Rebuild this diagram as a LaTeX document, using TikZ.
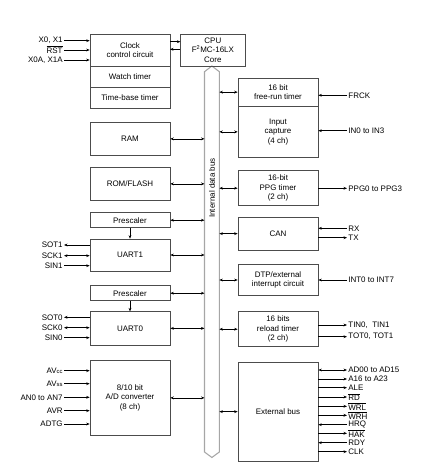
\documentclass[tikz,border=0pt]{standalone}
\usepackage{fontspec}
\setmainfont{Liberation Sans}
\usetikzlibrary{arrows.meta}

\tikzset{
  blk/.style={draw=black!70, line width=0.5pt, minimum width=24mm, inner sep=0pt, align=center},
  lbl/.style={inner sep=1pt},
  sig/.style={line width=0.5pt, -{Stealth[length=3pt,width=2.4pt]}},
  bsig/.style={line width=0.5pt, {Stealth[length=3pt,width=2.4pt]}-{Stealth[length=3pt,width=2.4pt]}},
}
\newcommand{\sm}[1]{{\fontsize{5}{6}\selectfont #1}}

\begin{document}
\begin{tikzpicture}[x=0.3mm, y=-0.3mm, font=\fontsize{6.8}{8.1}\selectfont]
  \useasboundingbox (0,0) rectangle (434,471);

  % Internal data bus
  \draw[gray!70, line width=0.9pt]
    (204.5,71.7) -- (211.9,66) -- (219.3,71.7) -- (219.3,452) -- (211.9,457.5) -- (204.5,452) -- cycle;
  \node[rotate=90] (busname) at (211.9,188) {Internal data bus};
  \coordinate (busL) at (204.5,0);
  \coordinate (busR) at (219.3,0);

  % Clock section and CPU
  \node[blk, minimum height=9.81mm] (clk) at (130,50.35) {Clock\\control circuit};
  \node[blk, minimum height=6.09mm] (watch) at (130,76.85) {Watch timer};
  \node[blk, minimum height=6.3mm] (tbase) at (130,97.5) {Time-base timer};
  \node[blk, minimum width=19.29mm, minimum height=9.6mm] (cpu) at (212.85,50) {CPU\\F\textsuperscript{2}MC-16LX\\Core};
  \draw[sig] (170,41.7) -- (cpu.west |- 0,41.7);
  \draw[sig] (cpu.west |- 0,49.3) -- (170,49.3);

  \node[lbl, anchor=east] (x0) at (64,40.7) {X0, X1};
  \node[lbl, anchor=east] (rst) at (64,50) {$\overline{\mbox{RST}}$};
  \node[lbl, anchor=east] (x0a) at (64,60) {X0A, X1A};
  \draw[sig] (x0.east) -- (clk.west |- x0);
  \draw[sig] (rst.east) -- (clk.west |- rst);
  \draw[sig] (x0a.east) -- (clk.west |- x0a);

  % Left column
  \node[blk, minimum height=9.69mm] (ram) at (130,138.85) {RAM};
  \node[blk, minimum height=9.69mm] (rom) at (130,183.85) {ROM/FLASH};
  \node[blk, minimum height=4.5mm] (pre1) at (130,220.2) {Prescaler};
  \node[blk, minimum height=9.6mm] (uart1) at (130,255) {UART1};
  \node[blk, minimum height=4.5mm] (pre2) at (130,293.2) {Prescaler};
  \node[blk, minimum height=10mm] (uart0) at (130,328.35) {UART0};
  \node[blk, minimum height=22.29mm] (adc) at (130,397.85) {8/10 bit\\A/D converter\\(8 ch)};

  \draw[bsig] (ram.east) -- (ram.east -| busL);
  \draw[bsig] (rom.east) -- (rom.east -| busL);
  \draw[bsig] (pre1.east) -- (pre1.east -| busL);
  \draw[bsig] (uart1.east) -- (uart1.east -| busL);
  \draw[bsig] (pre2.east) -- (pre2.east -| busL);
  \draw[bsig] (uart0.east) -- (uart0.east -| busL);
  \draw[bsig] (adc.east) -- (adc.east -| busL);
  \draw[sig] (pre1.south) -- (uart1.north);
  \draw[sig] (pre2.south) -- (uart0.north);

  \node[lbl, anchor=east] (sot1) at (64,245) {SOT1};
  \node[lbl, anchor=east] (sck1) at (64,255.7) {SCK1};
  \node[lbl, anchor=east] (sin1) at (64,265.7) {SIN1};
  \draw[sig] (uart1.west |- sot1) -- (sot1.east);
  \draw[bsig] (sck1.east) -- (uart1.west |- sck1);
  \draw[sig] (sin1.east) -- (uart1.west |- sin1);

  \node[lbl, anchor=east] (sot0) at (64,317.3) {SOT0};
  \node[lbl, anchor=east] (sck0) at (64,327.7) {SCK0};
  \node[lbl, anchor=east] (sin0) at (64,337.7) {SIN0};
  \draw[sig] (uart0.west |- sot0) -- (sot0.east);
  \draw[bsig] (sck0.east) -- (uart0.west |- sck0);
  \draw[sig] (sin0.east) -- (uart0.west |- sin0);

  \node[lbl, anchor=east] (avcc) at (64,370.7) {AV\sm{cc}};
  \node[lbl, anchor=east] (avss) at (64,383.7) {AV\sm{ss}};
  \node[lbl, anchor=east] (an0) at (64,397.3) {AN0 to AN7};
  \node[lbl, anchor=east] (avr) at (64,410.7) {AVR};
  \node[lbl, anchor=east] (adtg) at (64,424) {ADTG};
  \draw[sig] (avcc.east) -- (adc.west |- avcc);
  \draw[sig] (avss.east) -- (adc.west |- avss);
  \draw[sig] (an0.east) -- (adc.west |- an0);
  \draw[sig] (avr.east) -- (adc.west |- avr);
  \draw[sig] (adtg.east) -- (adc.west |- adtg);

  % Right column
  \node[blk, minimum height=8.31mm] (frt) at (278,92.15) {16 bit\\free-run timer};
  \node[blk, minimum height=15.51mm] (icu) at (278,131.85) {Input\\capture\\(4 ch)};
  \node[blk, minimum height=10.5mm] (ppg) at (278,188.2) {16-bit\\PPG timer\\(2 ch)};
  \node[blk, minimum height=9.81mm] (can) at (278,233.65) {CAN};
  \node[blk, minimum height=9.42mm] (dtp) at (278,280) {DTP/external\\interrupt circuit};
  \node[blk, minimum height=10.5mm] (rlt) at (278,329.2) {16 bits\\reload timer\\(2 ch)};
  \node[blk, minimum height=29.61mm] (ebus) at (278,411.65) {External bus};

  \draw[bsig] (frt.west -| busR) -- (frt.west);
  \draw[bsig] (icu.west -| busR) -- (icu.west);
  \draw[bsig] (ppg.west -| busR) -- (ppg.west);
  \draw[bsig] (can.west -| busR) -- (can.west);
  \draw[bsig] (dtp.west -| busR) -- (dtp.west);
  \draw[bsig] (rlt.west -| busR) -- (rlt.west);
  \draw[bsig] (ebus.west -| busR) -- (ebus.west);

  \node[lbl, anchor=west] (frck) at (347,95.3) {FRCK};
  \node[lbl, anchor=west] (in0) at (347,130.7) {IN0 to IN3};
  \node[lbl, anchor=west] (ppg0) at (347,188.3) {PPG0 to PPG3};
  \node[lbl, anchor=west] (rx) at (347,228.3) {RX};
  \node[lbl, anchor=west] (tx) at (347,237.7) {TX};
  \node[lbl, anchor=west] (int0) at (347,280) {INT0 to INT7};
  \node[lbl, anchor=west] (tin0) at (347,325) {TIN0,\ \ TIN1};
  \node[lbl, anchor=west] (tot0) at (347,336.7) {TOT0, TOT1};
  \draw[sig] (frck.west) -- (frt.east |- frck);
  \draw[sig] (in0.west) -- (icu.east |- in0);
  \draw[sig] (ppg.east |- ppg0) -- (ppg0.west);
  \draw[sig] (rx.west) -- (can.east |- rx);
  \draw[sig] (can.east |- tx) -- (tx.west);
  \draw[sig] (int0.west) -- (dtp.east |- int0);
  \draw[sig] (rlt.east |- tin0) -- (tin0.west);
  \draw[sig] (rlt.east |- tot0) -- (tot0.west);

  \node[lbl, anchor=west] (ad00) at (347,370) {AD00 to AD15};
  \node[lbl, anchor=west] (a16) at (347,379) {A16 to A23};
  \node[lbl, anchor=west] (ale) at (347,387.7) {ALE};
  \node[lbl, anchor=west] (rd) at (347,397) {$\overline{\mbox{RD}}$};
  \node[lbl, anchor=west] (wrl) at (347,406.3) {$\overline{\mbox{WRL}}$};
  \node[lbl, anchor=west] (wrh) at (347,415.3) {$\overline{\mbox{WRH}}$};
  \node[lbl, anchor=west] (hrq) at (347,424.7) {HRQ};
  \node[lbl, anchor=west] (hak) at (347,433.3) {$\overline{\mbox{HAK}}$};
  \node[lbl, anchor=west] (rdy) at (347,442.7) {RDY};
  \node[lbl, anchor=west] (clk) at (347,451.7) {CLK};
  \draw[bsig] (ebus.east |- ad00) -- (ad00.west);
  \draw[sig] (ebus.east |- a16) -- (a16.west);
  \draw[sig] (ebus.east |- ale) -- (ale.west);
  \draw[sig] (ebus.east |- rd) -- (rd.west);
  \draw[sig] (ebus.east |- wrl) -- (wrl.west);
  \draw[sig] (ebus.east |- wrh) -- (wrh.west);
  \draw[sig] (hrq.west) -- (ebus.east |- hrq);
  \draw[sig] (ebus.east |- hak) -- (hak.west);
  \draw[sig] (rdy.west) -- (ebus.east |- rdy);
  \draw[sig] (ebus.east |- clk) -- (clk.west);
\end{tikzpicture}
\end{document}
